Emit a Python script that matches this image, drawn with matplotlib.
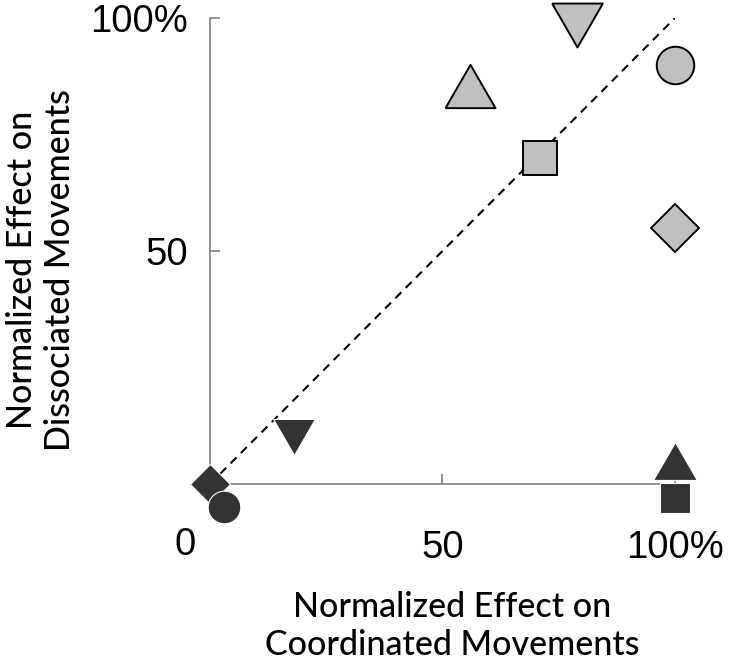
import matplotlib
matplotlib.use("Agg")
import matplotlib.pyplot as plt
import numpy as np

# Datos (% normalizado)
coord_gris = [56, 79, 100, 71, 100]
disoc_gris = [85.5, 98.5, 90, 70, 55]
marcas_gris = ["up", "down", "o", "s", "D"]
tam_gris = [36, 36.5, 27, 24, 24]

coord_oscuro = [18, 0, 3, 100, 100]
disoc_oscuro = [10, 0, -5, 5, -3]
marcas_oscuro = ["down", "D", "o", "up", "s"]
tam_oscuro = [30, 20.5, 23.5, 31.5, 21]

# Triángulos equiláteros
tri_arriba = [(-1, -0.866), (1, -0.866), (0, 0.866), (-1, -0.866)]
tri_abajo = [(-1, 0.866), (1, 0.866), (0, -0.866), (-1, 0.866)]
formas = {"up": tri_arriba, "down": tri_abajo}

fig = plt.figure(figsize=(7.3, 6.6), dpi=100)
W, H = 730, 660
ax = fig.add_axes([210 / W, 1 - 484 / H, (675 - 210) / W, (484 - 18) / H])
ax.set_xlim(0, 100)
ax.set_ylim(0, 100)

# Línea de identidad
ax.plot([0, 100], [0, 100], linestyle=(0, (4, 3)), color="black", linewidth=1.5, zorder=2)

for x, y, m, s in zip(coord_gris, disoc_gris, marcas_gris, tam_gris):
    ax.plot(x, y, marker=formas.get(m, m), markersize=s, markerfacecolor="#c0c0c0",
            markeredgecolor="black", markeredgewidth=1.4, linestyle="none",
            clip_on=False, zorder=3)

for x, y, m, s in zip(coord_oscuro, disoc_oscuro, marcas_oscuro, tam_oscuro):
    ax.plot(x, y, marker=formas.get(m, m), markersize=s, markerfacecolor="#333333",
            markeredgecolor="white", markeredgewidth=0.8, linestyle="none",
            clip_on=False, zorder=3)

# Ejes
for lado in ["top", "right"]:
    ax.spines[lado].set_visible(False)
for lado in ["left", "bottom"]:
    ax.spines[lado].set_color("#808080")
    ax.spines[lado].set_linewidth(1.2)

ax.set_xticks([50, 100])
ax.set_xticklabels(["50", "100%"])
ax.set_yticks([50, 100])
ax.set_yticklabels(["50", "100%"])
ax.tick_params(axis="both", direction="in", length=7, width=1.2, color="#808080",
               labelsize=27.5, labelcolor="black")
ax.tick_params(axis="x", pad=33)
ax.tick_params(axis="y", pad=16)
for lab in ax.get_xticklabels() + ax.get_yticklabels():
    lab.set_family(["Liberation Sans", "DejaVu Sans"])

ax.text(-5.4, -13, "0", ha="center", va="center", fontsize=27.5,
        family=["Liberation Sans", "DejaVu Sans"])

# Etiquetas de los ejes
fig.text(452 / W, 1 - 626 / H, "Normalized Effect on\nCoordinated Movements",
         ha="center", va="center", fontsize=24.5, family=["Lato", "DejaVu Sans"],
         weight="medium", linespacing=1.25)
fig.text(41 / W, 1 - 270 / H, "Normalized Effect on\nDissociated Movements",
         ha="center", va="center", rotation=90, fontsize=24.5,
         family=["Lato", "DejaVu Sans"], weight="medium", linespacing=1.25)

fig.savefig("out.png", dpi=100)
